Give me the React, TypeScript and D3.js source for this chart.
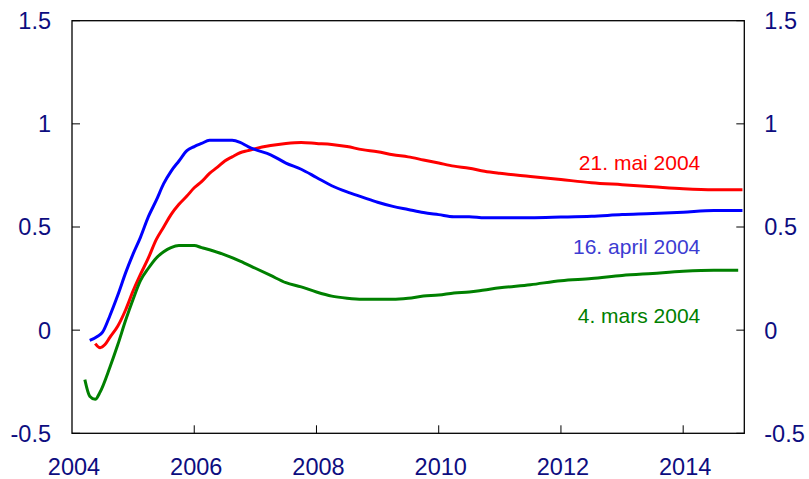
import React, { useEffect, useRef } from 'react'
import * as d3 from 'd3'

// decimal year / value pairs
const marsYears = [2004.21, 2004.29, 2004.38, 2004.46, 2004.62, 2004.75, 2004.88, 2005.0, 2005.12, 2005.25, 2005.38, 2005.5, 2005.62, 2005.75, 2006.0, 2006.12, 2006.25, 2006.5, 2006.75, 2007.0, 2007.25, 2007.5, 2007.75, 2008.0, 2008.25, 2008.5, 2008.75, 2009.0, 2009.25, 2009.5, 2009.75, 2010.0, 2010.25, 2010.5, 2010.75, 2011.0, 2011.5, 2012.0, 2012.5, 2013.0, 2013.5, 2014.0, 2014.5, 2014.9]
const marsValues = [-0.24, -0.32, -0.335, -0.3, -0.18, -0.07, 0.05, 0.15, 0.24, 0.3, 0.35, 0.38, 0.4, 0.41, 0.41, 0.4, 0.39, 0.365, 0.335, 0.3, 0.265, 0.23, 0.21, 0.185, 0.165, 0.155, 0.15, 0.15, 0.15, 0.155, 0.165, 0.17, 0.18, 0.185, 0.195, 0.205, 0.22, 0.24, 0.25, 0.265, 0.275, 0.285, 0.29, 0.29]

const aprilYears = [2004.29, 2004.42, 2004.5, 2004.62, 2004.75, 2004.88, 2005.0, 2005.12, 2005.25, 2005.38, 2005.5, 2005.62, 2005.75, 2005.88, 2006.0, 2006.12, 2006.25, 2006.5, 2006.62, 2006.75, 2006.88, 2007.0, 2007.25, 2007.5, 2007.75, 2008.0, 2008.25, 2008.5, 2008.75, 2009.0, 2009.25, 2009.5, 2009.75, 2010.0, 2010.25, 2010.5, 2010.75, 2011.0, 2011.5, 2012.0, 2012.5, 2013.0, 2013.5, 2014.0, 2014.5, 2014.97]
const aprilValues = [-0.05, -0.03, -0.01, 0.07, 0.17, 0.28, 0.37, 0.45, 0.55, 0.63, 0.71, 0.77, 0.82, 0.87, 0.89, 0.905, 0.92, 0.92, 0.92, 0.91, 0.89, 0.875, 0.85, 0.81, 0.78, 0.74, 0.7, 0.67, 0.645, 0.62, 0.6, 0.585, 0.57, 0.56, 0.55, 0.55, 0.545, 0.545, 0.545, 0.548, 0.552, 0.56, 0.565, 0.572, 0.58, 0.58]

const maiYears = [2004.38, 2004.46, 2004.54, 2004.62, 2004.75, 2004.88, 2005.0, 2005.12, 2005.25, 2005.38, 2005.5, 2005.62, 2005.75, 2005.88, 2006.0, 2006.12, 2006.25, 2006.38, 2006.5, 2006.62, 2006.75, 2006.88, 2007.0, 2007.25, 2007.5, 2007.75, 2008.0, 2008.25, 2008.5, 2008.75, 2009.0, 2009.25, 2009.5, 2009.75, 2010.0, 2010.25, 2010.5, 2010.75, 2011.0, 2011.5, 2012.0, 2012.5, 2013.0, 2013.5, 2014.0, 2014.5, 2014.97]
const maiValues = [-0.065, -0.085, -0.07, -0.035, 0.02, 0.1, 0.19, 0.27, 0.35, 0.44, 0.5, 0.56, 0.61, 0.65, 0.69, 0.72, 0.76, 0.79, 0.82, 0.84, 0.86, 0.87, 0.88, 0.895, 0.905, 0.91, 0.905, 0.9, 0.89, 0.875, 0.865, 0.85, 0.84, 0.825, 0.81, 0.795, 0.785, 0.77, 0.76, 0.745, 0.73, 0.715, 0.705, 0.695, 0.685, 0.68, 0.68]

const xTicks = [2004, 2006, 2008, 2010, 2012, 2014]
const yTicks = [-0.5, 0, 0.5, 1, 1.5]

const series = [
  { name: '21. mai 2004', years: maiYears, values: maiValues, color: '#ff0000', labelColor: '#ff0000', labelValue: 0.776 },
  { name: '16. april 2004', years: aprilYears, values: aprilValues, color: '#0000ff', labelColor: '#3c3cd2', labelValue: 0.368 },
  { name: '4. mars 2004', years: marsYears, values: marsValues, color: '#008000', labelColor: '#008000', labelValue: 0.035 }
]

const App = () => {
  const svgRef = useRef<SVGSVGElement>(null)

  useEffect(() => {
    const width = 809
    const height = 479
    const margin = { top: 20.7, right: 64.7, bottom: 45.7, left: 72 }
    const innerW = width - margin.left - margin.right
    const innerH = height - margin.top - margin.bottom
    const font = 'Arial, "Liberation Sans", sans-serif'
    const axisColor = '#0d0d80'

    const svg = d3.select(svgRef.current)
    svg.selectAll('*').remove()

    const xScale = d3.scaleLinear().domain([2004, 2015]).range([0, innerW])
    const yScale = d3.scaleLinear().domain([-0.5, 1.5]).range([innerH, 0])

    const g = svg.append('g')
      .attr('transform', 'translate(' + margin.left + ',' + margin.top + ')')

    // frame
    g.append('rect')
      .attr('width', innerW)
      .attr('height', innerH)
      .attr('fill', 'none')
      .attr('stroke', '#000')
      .attr('stroke-width', 1.3)

    // inward tick marks
    xTicks.filter(t => t > 2004).forEach(t => {
      g.append('line')
        .attr('x1', xScale(t)).attr('x2', xScale(t))
        .attr('y1', innerH).attr('y2', innerH - 8)
        .attr('stroke', '#000').attr('stroke-width', 1)
    })
    yTicks.forEach(t => {
      g.append('line')
        .attr('x1', 0).attr('x2', 8)
        .attr('y1', yScale(t)).attr('y2', yScale(t))
        .attr('stroke', '#000').attr('stroke-width', 1)
      g.append('line')
        .attr('x1', innerW).attr('x2', innerW - 8)
        .attr('y1', yScale(t)).attr('y2', yScale(t))
        .attr('stroke', '#000').attr('stroke-width', 1)
    })

    // tick labels
    const fmt = (d: number) => String(d)
    xTicks.forEach(t => {
      g.append('text')
        .attr('x', xScale(t) + 2)
        .attr('y', innerH + 42)
        .attr('text-anchor', 'middle')
        .style('font-family', font)
        .style('font-size', '23.5px')
        .style('fill', axisColor)
        .text(fmt(t))
    })
    yTicks.forEach(t => {
      g.append('text')
        .attr('x', -21)
        .attr('y', yScale(t))
        .attr('dy', '0.36em')
        .attr('text-anchor', 'end')
        .style('font-family', font)
        .style('font-size', '23.5px')
        .style('fill', axisColor)
        .text(fmt(t))
      g.append('text')
        .attr('x', innerW + 20)
        .attr('y', yScale(t))
        .attr('dy', '0.36em')
        .attr('text-anchor', 'start')
        .style('font-family', font)
        .style('font-size', '23.5px')
        .style('fill', axisColor)
        .text(fmt(t))
    })

    const lineGenerator = d3.line<[number, number]>()
      .x(d => xScale(d[0]))
      .y(d => yScale(d[1]))
      .curve(d3.curveMonotoneX)

    series.forEach(s => {
      const pts: [number, number][] = s.years.map((y, i) => [y, s.values[i]])
      g.append('path')
        .attr('d', lineGenerator(pts))
        .attr('fill', 'none')
        .attr('stroke', s.color)
        .attr('stroke-width', 3)
        .attr('stroke-linejoin', 'round')

      // series label, right-aligned under the last years
      g.append('text')
        .attr('x', xScale(2014.28))
        .attr('y', yScale(s.labelValue))
        .attr('text-anchor', 'end')
        .style('font-family', font)
        .style('font-size', '21px')
        .style('fill', s.labelColor)
        .text(s.name)
    })
  }, [])

  return (
    <svg
      ref={svgRef}
      width={809}
      height={479}
      style={{ position: 'absolute', left: 0, top: 0, background: '#fff' }}
    />
  )
}

export default App
